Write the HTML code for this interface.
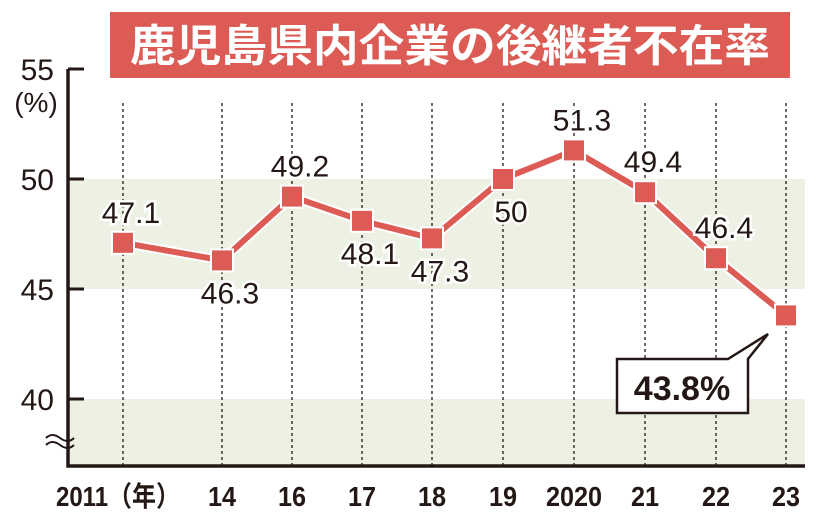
<!DOCTYPE html>
<html><head><meta charset="utf-8"><style>
html,body{margin:0;padding:0;background:#fff;}
svg{display:block;font-family:"Liberation Sans","Noto Sans CJK JP",sans-serif;}
</style></head><body>
<svg width="838" height="526" viewBox="0 0 838 526">
<g id="bands"></g><g id="grid"></g>
<rect x="110" y="12" width="680" height="66" fill="#dc5b55"/>
<text x="450" y="61" text-anchor="middle" font-size="44" font-weight="bold" fill="#fff" textLength="640" lengthAdjust="spacingAndGlyphs">鹿児島県内企業の後継者不在率</text>
<g id="axes"></g><g id="series"></g><g id="labels"></g>
<g>
<path d="M617,359 L728,359 L768,334 L748,359 L748,413 L617,413 Z" fill="#fff" stroke="#231815" stroke-width="2.5"/>
<text x="682" y="400" text-anchor="middle" font-size="34" font-weight="bold" fill="#231815">43.8%</text>
</g>
</svg>
<script>
const categories=["2011（年）","14","16","17","18","19","2020","21","22","23"];
const values=[47.1,46.3,49.2,48.1,47.3,50,51.3,49.4,46.4,43.8];
const yTicks=[40,45,50,55];
const labelPos=["above","below","above","below","below","below","above","above","above","none"];
const NS="http://www.w3.org/2000/svg";
const xs=[123,222,292,362,432,503,574,645,716,786];
function x(i){return xs[i];}
function y(v){return 179-(v-50)*22;}
const axisL=68,axisB=466,right=805;
function mk(t,a,p){const e=document.createElementNS(NS,t);for(const k in a)e.setAttribute(k,a[k]);(p||document.querySelector('svg')).appendChild(e);return e;}
const bands=document.getElementById('bands'),grid=document.getElementById('grid'),axes=document.getElementById('axes'),series=document.getElementById('series'),labels=document.getElementById('labels');
let b=mk('rect',{x:axisL,y:y(50),width:right-axisL,height:y(45)-y(50),fill:"#edf1e4"},bands);


b=mk('rect',{x:axisL,y:y(40),width:right-axisL,height:axisB-y(40),fill:"#edf1e4"},bands);


categories.forEach((c,i)=>{
 const l=mk('line',{x1:x(i),x2:x(i),y1:103,y2:axisB,stroke:"#231815","stroke-width":1.3,"stroke-dasharray":"3,3"},grid);
 
 
 const attrs={x:i==0?x(i)-5:x(i),y:506,"text-anchor":"middle","font-size":28,"font-weight":"bold",fill:"#231815"};
 if(i==0){attrs.textLength=124;attrs.lengthAdjust="spacingAndGlyphs";}
 else {attrs.transform=`translate(${x(i)},0) scale(0.9,1) translate(${-x(i)},0)`;}
 const t=mk('text',attrs,axes);
 t.textContent=c;
 
 
});
let a=mk('path',{d:`M${axisL},${y(55)} L${axisL},${axisB} L${right},${axisB}`,fill:"none",stroke:"#231815","stroke-width":3.5},axes);


yTicks.forEach(v=>{
 const l=mk('line',{x1:axisL,x2:axisL+16,y1:y(v),y2:y(v),stroke:"#231815","stroke-width":3},axes);
 
 
 const t=mk('text',{x:54,y:y(v)+11,"text-anchor":"end","font-size":30,fill:"#231815"},axes);
 t.textContent=v;
 
 
});
let u=mk('text',{x:36,y:112,"text-anchor":"middle","font-size":28,fill:"#231815"},axes);
u.textContent="(%)";


let br=mk('path',{d:"M46,438 q6,-6 14,0 t14,0 M46,445 q6,-6 14,0 t14,0",fill:"none",stroke:"#231815","stroke-width":2},axes);


const pts=values.map((v,i)=>x(i)+","+y(v)).join(" ");
let pl=mk('polyline',{points:pts,fill:"none",stroke:"#fff","stroke-width":10},series);


pl=mk('polyline',{points:pts,fill:"none",stroke:"#dc5b55","stroke-width":6},series);


values.forEach((v,i)=>{
 const r=mk('rect',{x:x(i)-11,y:y(v)-11,width:22,height:22,fill:"#dc5b55",stroke:"#fff","stroke-width":2},series);
 
 
 if(labelPos[i]==="none")return;
 const ty=labelPos[i]==="above"?y(v)-20:y(v)+43;
 const t=mk('text',{x:x(i)+8,y:ty,"text-anchor":"middle","font-size":30,fill:"#231815",stroke:"#fff","stroke-width":5,"paint-order":"stroke"},labels);
 t.textContent=v;
 
 
});
</script>
</body></html>
